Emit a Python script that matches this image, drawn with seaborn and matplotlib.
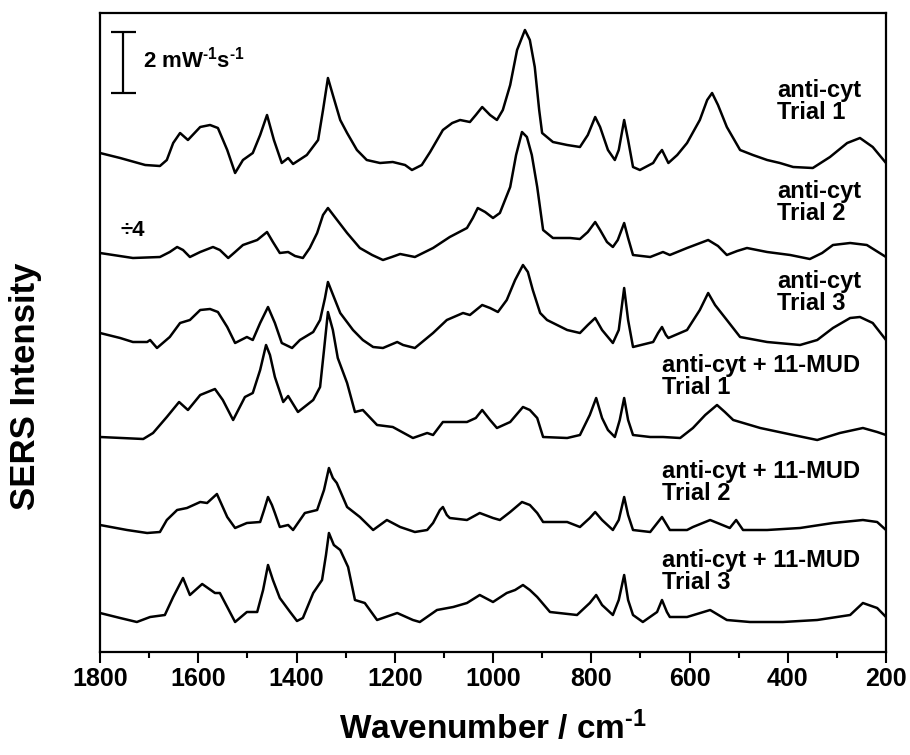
import matplotlib
matplotlib.use("Agg")
import matplotlib.pyplot as plt
from matplotlib.ticker import MultipleLocator
import seaborn as sns
import pandas as pd

# Spectra, already stacked (offsets included).
# Scale bar = 61 plot units = 2 mW^-1 s^-1
wn_t1 = [1800, 1759, 1708, 1678, 1664, 1651, 1637, 1621, 1596, 1576, 1560, 1541, 1525, 1509, 1489,
         1474, 1460, 1446, 1430, 1417, 1407, 1379, 1356, 1346, 1336, 1326, 1311, 1297, 1277, 1257,
         1230, 1204, 1179, 1165, 1145, 1128, 1102, 1083, 1067, 1047, 1035, 1022, 1006, 992, 980,
         965, 951, 935, 925, 915, 906, 900, 878, 849, 823, 807, 792, 782, 766, 752, 744, 733, 725,
         715, 701, 674, 664, 656, 648, 643, 625, 605, 579, 564, 554, 542, 524, 497, 471, 442, 416,
         389, 349, 314, 279, 253, 227, 200]
int_t1 = [499, 494, 487, 486, 492, 509, 519, 512, 525, 527, 524, 502, 479, 492, 499,
          517, 537, 512, 489, 494, 488, 497, 512, 542, 574, 557, 532, 519, 502, 492,
          489, 490, 487, 482, 487, 500, 522, 529, 532, 530, 537, 545, 537, 532, 542,
          567, 602, 622, 612, 585, 542, 519, 510, 507, 505, 517, 535, 525, 502, 492, 502, 532, 512,
          485, 482, 489, 497, 502, 494, 489, 497, 509, 532, 552, 559, 547, 525, 502, 497, 492, 489,
          485, 484, 495, 509, 514, 505, 489]

wn_t2 = [1800, 1733, 1678, 1658, 1643, 1631, 1617, 1596, 1570, 1556, 1539, 1525, 1509, 1480, 1470,
         1460, 1448, 1434, 1417, 1403, 1387, 1373, 1358, 1346, 1336, 1322, 1297, 1271, 1246, 1224,
         1206, 1189, 1159, 1122, 1088, 1053, 1041, 1031, 1016, 1000, 986, 965, 953, 941, 931, 921,
         910, 898, 878, 843, 823, 807, 792, 782, 768, 756, 746, 733, 725, 715, 680, 654, 640, 605,
         562, 542, 524, 503, 483, 442, 395, 355, 330, 308, 273, 239, 200]
int_t2 = [399, 394, 395, 400, 405, 402, 395, 400, 405, 402, 394, 400, 407, 412, 416,
          420, 410, 399, 400, 396, 394, 404, 419, 437, 444, 435, 419, 404, 397, 392,
          395, 398, 395, 404, 415, 424, 434, 444, 440, 434, 439, 465, 497, 520, 515, 497,
          465, 422, 414, 414, 413, 420, 430, 422, 410, 405, 412, 429, 414, 397, 395, 400, 397, 404,
          412, 406, 397, 401, 404, 400, 397, 393, 399, 407, 409, 407, 395]

wn_t3 = [1800, 1759, 1733, 1704, 1698, 1684, 1658, 1637, 1617, 1596, 1576, 1560, 1541, 1525, 1501,
         1489, 1474, 1458, 1444, 1430, 1409, 1393, 1366, 1352, 1342, 1336, 1328, 1311, 1285, 1265,
         1244, 1224, 1195, 1183, 1159, 1122, 1094, 1061, 1047, 1022, 1006, 990, 972, 955, 939, 929,
         919, 904, 890, 849, 823, 807, 792, 778, 756, 744, 733, 725, 715, 674, 664, 656, 648, 643,
         605, 579, 562, 548, 524, 497, 442, 375, 340, 308, 273, 253, 227, 200]
int_t3 = [319, 314, 310, 310, 312, 304, 315, 329, 332, 342, 343, 340, 325, 309, 315,
          312, 329, 345, 329, 309, 304, 312, 320, 332, 354, 370, 360, 339, 322, 312,
          305, 304, 310, 307, 304, 319, 332, 339, 337, 347, 344, 340, 352, 372, 387, 380,
          362, 339, 332, 322, 319, 327, 334, 322, 309, 322, 364, 332, 305, 310, 319, 325, 317, 314,
          322, 342, 359, 347, 332, 315, 310, 307, 312, 324, 334, 335, 329, 312]

wn_m1 = [1800, 1712, 1692, 1664, 1639, 1621, 1596, 1566, 1550, 1529, 1505, 1489, 1474, 1462, 1454,
         1444, 1427, 1417, 1397, 1366, 1352, 1344, 1336, 1326, 1316, 1297, 1281, 1265, 1236, 1204,
         1163, 1134, 1122, 1102, 1053, 1035, 1022, 1006, 992, 965, 939, 925, 910, 898, 849, 823,
         803, 790, 778, 766, 752, 742, 733, 725, 715, 680, 654, 619, 593, 568, 544, 528, 511, 456,
         389, 340, 294, 247, 218, 200]
int_m1 = [215, 213, 219, 235, 250, 242, 257, 263, 252, 232, 255, 259, 282, 307, 297,
          275, 250, 256, 240, 252, 265, 302, 340, 322, 294, 269, 240, 242, 227, 225,
          214, 219, 217, 230, 230, 234, 242, 232, 224, 230, 245, 242, 234, 215, 214, 217,
          237, 254, 234, 222, 215, 232, 254, 232, 217, 215, 215, 214, 224, 237, 247, 240, 232, 224,
          217, 212, 219, 224, 220, 217]

wn_m2 = [1800, 1745, 1704, 1678, 1664, 1643, 1623, 1596, 1582, 1562, 1541, 1525, 1501, 1474, 1466,
         1458, 1450, 1444, 1434, 1417, 1407, 1383, 1358, 1344, 1334, 1326, 1318, 1297, 1271, 1244,
         1216, 1189, 1159, 1134, 1122, 1108, 1102, 1094, 1088, 1053, 1027, 1000, 986, 965, 941, 925,
         910, 898, 849, 823, 803, 792, 778, 756, 744, 733, 725, 715, 680, 656, 640, 605, 593, 558,
         518, 505, 491, 442, 375, 308, 247, 218, 200]
int_m2 = [127, 122, 119, 120, 132, 142, 144, 150, 149, 158, 135, 124, 129, 130, 142,
          155, 147, 139, 125, 127, 122, 139, 142, 162, 184, 174, 169, 145, 135, 122,
          132, 125, 120, 122, 129, 142, 145, 137, 134, 132, 139, 134, 132, 140, 150, 147,
          139, 130, 130, 125, 134, 140, 132, 122, 132, 155, 137, 122, 120, 135, 122, 122, 125, 132,
          124, 132, 122, 122, 124, 129, 132, 130, 122]

wn_m3 = [1800, 1759, 1725, 1698, 1668, 1651, 1631, 1617, 1592, 1566, 1556, 1541, 1525, 1501, 1480,
         1468, 1458, 1448, 1434, 1413, 1399, 1387, 1366, 1348, 1340, 1334, 1324, 1311, 1295, 1281,
         1261, 1236, 1195, 1163, 1149, 1114, 1081, 1053, 1027, 1000, 972, 955, 939, 925, 910, 884,
         829, 803, 790, 778, 756, 744, 733, 725, 715, 695, 666, 656, 646, 640, 605, 558, 524, 477,
         410, 340, 273, 247, 218, 200]
int_m3 = [39, 34, 30, 35, 37, 55, 74, 57, 68, 59, 59, 45, 30, 40, 40,
          62, 87, 72, 54, 40, 31, 34, 59, 72, 97, 119, 107, 102, 85, 52,
          49, 32, 39, 32, 30, 42, 45, 49, 57, 50, 59, 62, 67, 62, 55, 40,
          37, 49, 57, 47, 37, 52, 77, 52, 37, 30, 40, 52, 40, 35, 35, 42, 32, 30,
          30, 32, 37, 49, 44, 35]

wavenumbers = [wn_t1, wn_t2, wn_t3, wn_m1, wn_m2, wn_m3]
intensities = [int_t1, int_t2, int_t3, int_m1, int_m2, int_m3]
labels = ["anti-cyt\nTrial 1", "anti-cyt\nTrial 2", "anti-cyt\nTrial 3",
          "anti-cyt + 11-MUD\nTrial 1", "anti-cyt + 11-MUD\nTrial 2", "anti-cyt + 11-MUD\nTrial 3"]
label_pos = [(422, 573), (422, 472), (422, 382), (656, 298), (656, 192), (656, 103)]

sns.set_style("ticks")
plt.rcParams["font.family"] = ["Liberation Sans", "DejaVu Sans"]
plt.rcParams["font.weight"] = "bold"
plt.rcParams["mathtext.fontset"] = "custom"
plt.rcParams["mathtext.rm"] = "Liberation Sans:bold"
plt.rcParams["mathtext.bf"] = "Liberation Sans:bold"
plt.rcParams["mathtext.default"] = "bf"
for key in ["text.color", "axes.edgecolor", "axes.labelcolor", "xtick.color", "ytick.color"]:
    plt.rcParams[key] = "black"

fig = plt.figure(figsize=(9.1, 7.55), dpi=100)
ax = fig.add_axes([100 / 910, 1 - 652 / 755, 786 / 910, 639 / 755])

for wn, inten in zip(wavenumbers, intensities):
    df = pd.DataFrame({"wn": wn, "I": inten})
    sns.lineplot(data=df, x="wn", y="I", color="black", lw=1.8, sort=False,
                 estimator=None, ax=ax)

for lab, (x, y) in zip(labels, label_pos):
    ax.text(x, y, lab, ha="left", va="top", fontsize=17, fontweight="bold",
            linespacing=0.95)

# scale bar
ax.vlines(1753, 559, 620, color="black", lw=1.6)
ax.hlines([559, 620], 1778, 1727, color="black", lw=1.6)
ax.text(1712, 592, r"2 mW$^{\text{-1}}$s$^{\text{-1}}$", ha="left", va="center",
        fontsize=16, fontweight="bold")
ax.text(1759, 422, "÷4", ha="left", va="center", fontsize=16, fontweight="bold")

ax.set_xlim(1800, 200)
ax.set_ylim(0, 639)
ax.xaxis.set_major_locator(MultipleLocator(200))
ax.xaxis.set_minor_locator(MultipleLocator(100))
ax.tick_params(axis="x", which="major", direction="out", length=8, width=1.5,
               labelsize=18, pad=3)
ax.tick_params(axis="x", which="minor", direction="out", length=4.5, width=1.5)
ax.set_yticks([])
for lbl in ax.get_xticklabels():
    lbl.set_fontweight("bold")
for sp in ax.spines.values():
    sp.set_linewidth(1.6)
    sp.set_visible(True)

ax.set_xlabel(r"Wavenumber / cm$^{\text{-1}}$", fontsize=24, fontweight="bold", labelpad=14)
ax.set_ylabel("SERS Intensity", fontsize=25, fontweight="bold")
ax.yaxis.set_label_coords(-0.074, 0.416)

fig.savefig("out.png", dpi=100, facecolor="white")
